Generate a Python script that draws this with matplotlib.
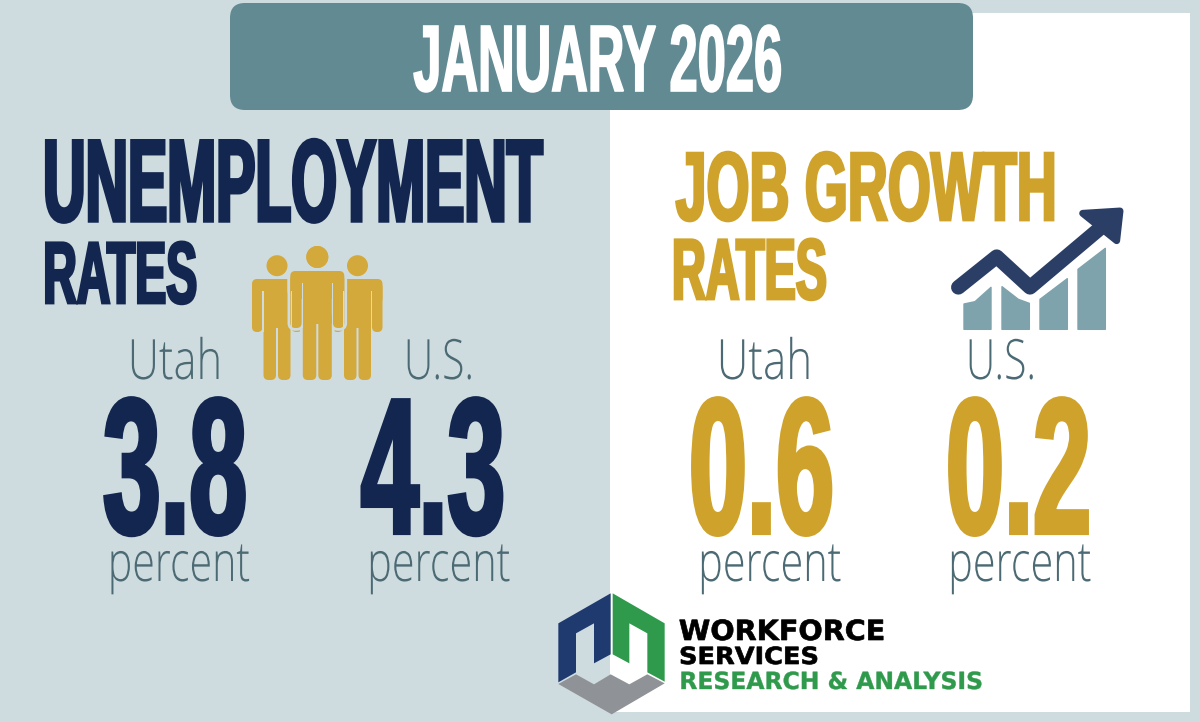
import matplotlib
matplotlib.use('Agg')
import matplotlib.pyplot as plt
import matplotlib.patheffects as pe
from matplotlib.patches import Rectangle, FancyBboxPatch, Circle, Polygon
from matplotlib.transforms import Affine2D

title = "JANUARY 2026"
unemp_head = ["UNEMPLOYMENT", "RATES"]
job_head = ["JOB GROWTH", "RATES"]
places = ["Utah", "U.S."]
unemp_values = [3.8, 4.3]
job_values = [0.6, 0.2]
unit = "percent"
logo_lines = ["WORKFORCE", "SERVICES", "RESEARCH & ANALYSIS"]

BG = '#cfdcdf'
TEAL = '#628a93'
NAVY = '#12264f'
GOLD = '#cfa32b'
ICON_GOLD = '#d4a93c'
GREY = '#4c6a74'
HEAVY = 'Liberation Sans'


class Tall(pe.AbstractPathEffect):
    # no condensed font here, so stretch the glyph path upwards from the baseline
    def __init__(self, sy, base, fat=0):
        super().__init__()
        self.sy = sy
        self.base = base
        self.fat = fat

    def draw_path(self, renderer, gc, tpath, affine, rgbFace=None):
        tr = affine + Affine2D().translate(0, -self.base).scale(1, self.sy).translate(0, self.base)
        gc0 = renderer.new_gc()
        gc0.copy_properties(gc)
        gc0.set_linewidth(self.fat)
        gc0.set_joinstyle('miter')
        if self.fat > 0:
            gc0.set_foreground(rgbFace[:3])
        renderer.draw_path(gc0, tpath, tr, rgbFace)
        gc0.restore()


fig = plt.figure(figsize=(12, 7.22), dpi=100)
ax = fig.add_axes([0, 0, 1, 1])
ax.set_xlim(0, 1200)
ax.set_ylim(722, 0)
ax.axis('off')
rend = fig.canvas.get_renderer()


def fit_text(s, left, right, base, size, color, family=HEAVY, weight='bold', fat=0):
    cx = (left + right) / 2
    t = ax.text(cx, base, s, ha='center', va='baseline', fontsize=size, color=color,
                family=[family, 'DejaVu Sans'], weight=weight, zorder=5)
    w = t.get_window_extent(rend).width
    new_size = size * (right - left) / w
    t.set_fontsize(new_size)
    t.set_path_effects([Tall(size / new_size, 722 - base, fat)])
    return t


def box(x0, y0, x1, y1, color, pad=3, edge='none', lw=0, z=3):
    ax.add_patch(FancyBboxPatch((x0 + pad, y0 + pad), x1 - x0 - 2 * pad, y1 - y0 - 2 * pad,
                                boxstyle='round,pad=%f' % pad, fc=color, ec=edge, lw=lw, zorder=z))


def person(cx, head_y, r, hw, top, arm_end, leg_end, hip, split, edge='none', lw=0):
    arm = hw * 0.42
    parts = [
        (cx - hw, top, cx + hw, top + 28, 9),
        (cx - hw, top, cx - hw + arm, arm_end, 5),
        (cx + hw - arm, top, cx + hw, arm_end, 5),
        (cx - hip, top, cx + hip, split + 2, 1),
        (cx - hip, split - 10, cx - 1, leg_end, 5),
        (cx + 1, split - 10, cx + hip, leg_end, 5),
    ]
    for p in parts:
        box(p[0], p[1], p[2], p[3], ICON_GOLD, pad=p[4], edge=edge, lw=lw)
    # slits between arm and body
    if edge == 'none':
        ax.add_patch(Rectangle((cx - hip - 1.2, top + 12), 1.2, arm_end - top - 12, fc=BG, ec='none', zorder=3.1))
        ax.add_patch(Rectangle((cx + hip, top + 12), 1.2, arm_end - top - 12, fc=BG, ec='none', zorder=3.1))
    ax.add_patch(Circle((cx, head_y), r, fc=ICON_GOLD, ec='none', zorder=3))


# backgrounds
ax.add_patch(Rectangle((0, 0), 1200, 722, fc=BG, ec='none', zorder=0))
ax.add_patch(Rectangle((610, 13), 580, 699, fc='white', ec='none', zorder=1))
box(230, 3, 973, 110, TEAL, pad=15, z=2)

fit_text(title, 413, 782, 91, 68, 'white', fat=1.2)

# headings
fit_text(unemp_head[0], 43, 542, 221, 84, NAVY, fat=2.5)
fit_text(unemp_head[1], 43, 197, 303, 63, NAVY, fat=2)
fit_text(job_head[0], 676, 1057, 220, 70, GOLD, fat=2)
fit_text(job_head[1], 672, 827, 299, 62, GOLD, fat=2)

# labels and numbers
place_x = [(128, 222), (404, 474), (717, 812), (966, 1036)]
num_x = [(103, 247), (361, 505), (689, 834), (946, 1091)]
unit_x = [(108, 250), (367, 510), (698, 841), (948, 1091)]
numbers = unemp_values + job_values
for i in range(4):
    fit_text(places[i % 2], place_x[i][0], place_x[i][1], 379, 40, GREY, 'Open Sans', 'light')
    col = NAVY if i < 2 else GOLD
    fit_text('%.1f' % numbers[i], num_x[i][0], num_x[i][1], 533, 139, col, fat=3)
    fit_text(unit, unit_x[i][0], unit_x[i][1], 581, 40, GREY, 'Open Sans', 'light')

# people icon
person(277, 265.7, 10.5, 25, 279, 332, 380, 13.5, 326)
person(357.5, 265.7, 10.5, 25, 279, 332, 380, 13.5, 326)
person(317.3, 257, 11, 27, 271, 328, 380, 14.5, 322, edge=BG, lw=4)
person(317.3, 257, 11, 27, 271, 328, 380, 14.5, 322)


def zoom_pts(pts, x0, y0):
    return [(x0 + a / 3, y0 + b / 3) for a, b in pts]


# growth icon
BAR = '#7ea3ac'
bars = [[(72, 388), (72, 312), (105, 305), (153, 262), (153, 388)],
        [(186, 388), (186, 260), (235, 298), (268, 310), (268, 388)],
        [(300, 388), (300, 298), (382, 236), (382, 388)],
        [(414, 388), (414, 208), (496, 145), (496, 388)]]
for b in bars:
    ax.add_patch(Polygon(zoom_pts(b, 940, 200), closed=True, fc=BAR, ec=BAR, lw=1, joinstyle='round', zorder=3))
ARROW = '#2a3e66'
line = zoom_pts([(55, 262), (170, 170), (270, 262), (480, 85)], 940, 200)
ax.plot([p[0] for p in line], [p[1] for p in line], color=ARROW, lw=10.5, solid_capstyle='round',
        solid_joinstyle='round', zorder=4)
ax.add_patch(Polygon(zoom_pts([(428, 40), (540, 33), (530, 122)], 940, 200), closed=True, fc=ARROW, ec=ARROW,
                     lw=5, joinstyle='round', zorder=4))

# logo
blue = [(25, 115), (182, 25), (182, 208), (132, 235), (132, 115), (78, 145), (78, 262), (25, 292)]
green = [(188, 25), (344, 115), (344, 290), (292, 262), (292, 145), (238, 115), (238, 235), (188, 208)]
gray = [(25, 297), (78, 268), (132, 298), (182, 268), (238, 298), (292, 268), (344, 295), (185, 388)]
for pts, c in [(blue, '#1f3a6e'), (green, '#2f9a4c'), (gray, '#8f9296')]:
    ax.add_patch(Polygon(zoom_pts(pts, 550, 585), closed=True, fc=c, ec='none', zorder=3))

fit_text(logo_lines[0], 679, 885, 640, 20, 'black', 'DejaVu Sans', 'bold', fat=0.5)
fit_text(logo_lines[1], 679, 819, 664, 17, 'black', 'DejaVu Sans', 'bold', fat=0.5)
fit_text(logo_lines[2], 679, 983, 689, 17, '#2f9a4c', 'DejaVu Sans', 'bold', fat=0.3)

fig.savefig('out.png', dpi=100)
